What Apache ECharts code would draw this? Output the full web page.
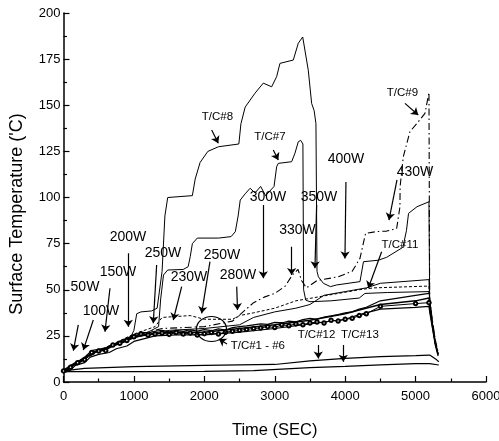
<!DOCTYPE html>
<html>
<head>
<meta charset="utf-8">
<script src="https://cdn.jsdelivr.net/npm/echarts@6/dist/echarts.min.js"></script>
<style>
  html, body { margin: 0; padding: 0; background: #fff; }
  #chart { width: 499px; height: 441px; }
</style>
</head>
<body>
<div id="chart"></div>
<script>
// Thermocouple traces: [time (s), surface temperature (°C)]
const tc8 = [[0,6],[100,8],[200,11],[300,13],[400,16],[600,18],[800,21],[950,24],[1000,28],[1040,37],[1100,38],[1250,38.5],[1330,40],[1400,60],[1440,90],[1480,100],[1830,101],[1870,110],[1940,119],[2050,125],[2200,127.5],[2490,129],[2520,140],[2580,149],[2719,156.5],[2837,162],[2956,160],[3027,165.5],[3074,172.7],[3263,174.5],[3334,183.6],[3397,187],[3476,169],[3524,151],[3560,147],[3585,140],[3600,60],[3620,57],[3690,53.5],[3790,51.7],[3880,52.6],[4210,54.4],[4260,65.2],[4470,66],[4590,67.6],[4820,73],[4870,82],[4900,91.4],[5020,95],[5190,97.7],[5200,45],[5240,32],[5280,22],[5320,15]];

const tc7 = [[0,6],[200,10.5],[400,15.5],[600,18],[800,21.5],[1000,25],[1200,27],[1350,30],[1380,45],[1420,58],[1480,60.7],[1700,61],[1770,62.5],[1800,68],[1830,75],[1900,78],[2200,78],[2380,78.8],[2440,81.5],[2480,90],[2510,98.6],[2580,102],[2650,105],[2720,102.5],[2800,106],[2870,101],[2930,103.5],[2990,106],[3027,116.7],[3050,118.5],[3240,119.4],[3287,124],[3334,130.2],[3368,131],[3400,129],[3410,50],[3440,44.4],[3500,43.5],[3800,44],[4200,45.5],[4280,48],[4600,48.5],[5190,49],[5200,45],[5240,31],[5280,21],[5320,15]];

const tc9 = [[0,6],[300,13],[600,18],[1000,25],[1400,29],[2000,30],[2400,33],[2550,38],[2700,43],[2850,46],[3000,48],[3150,52],[3250,58],[3330,61],[3380,55],[3450,51],[3600,55],[3900,57],[4100,60],[4210,67],[4290,80.6],[4447,81.5],[4589,81.8],[4731,83.2],[4778,95],[4780,105.8],[4825,122],[4920,135.7],[5038,141],[5133,145.6],[5190,157],[5200,45],[5240,33],[5280,23],[5320,16]];

const tc10 = [[0,6],[500,17],[1000,26],[1300,30],[1400,35],[1800,36],[2000,34],[2400,34],[2500,36],[2700,37.5],[3000,40],[3300,44],[3600,46],[4200,50],[4400,51],[5190,52],[5200,44],[5240,31],[5280,21],[5320,15]];

const tc11 = [[0,5.5],[500,17],[1000,24.5],[1500,28],[2000,29],[2500,31],[2700,35],[3000,38],[3300,40],[3500,42],[3700,47],[4000,49],[4300,51],[4500,53.5],[5190,55.5],[5200,44],[5240,31],[5280,21],[5320,15]];

// T/C#1 - #6 bundle
const tcA = [[0,5.5],[60,6.5],[150,10],[250,11],[350,14.5],[450,16.5],[600,17.5],[700,19.5],[850,21.5],[1000,24],[1100,25],[1300,26],[1500,27],[2000,27],[2500,29],[3000,31],[3500,33.5],[4000,37],[4200,39],[4500,42],[5000,44],[5190,45.5],[5200,40],[5240,30],[5280,21],[5320,15]];
const tcB = [[0,5],[80,6],[170,9],[300,10.5],[380,13.5],[500,15],[650,16],[750,18],[900,19.5],[1000,22],[1150,23.5],[1300,25],[1600,25.5],[2000,25.5],[2500,27],[3000,29],[3500,31.5],[4000,34],[4200,36.5],[4500,39.5],[5000,40.5],[5190,41],[5200,38],[5240,29],[5280,20],[5320,14]];
const tcC = [[0,6],[100,8],[200,10.5],[300,12],[400,16],[500,16.8],[600,17],[700,20],[800,21],[900,22.5],[1000,24.5],[1100,26],[1200,25.5],[1300,26],[1400,26.5],[1500,25.8],[1600,26.8],[1700,26],[1800,26.5],[1900,25.5],[2000,26.2],[2100,26.8],[2200,26],[2300,27],[2400,27.5],[2500,28],[2600,28.5],[2700,29],[2800,29.3],[2900,30],[3000,29.5],[3100,31],[3200,30.5],[3300,31.5],[3400,31],[3500,32],[3600,32.5],[3700,32],[3800,33.5],[3900,33],[4000,34],[4100,34.5],[4200,36],[4300,37],[4500,41],[5000,42.5],[5190,43]];
const tcD = [[0,6.5],[100,9],[200,11],[300,13.5],[400,17],[600,18.5],[800,22],[1000,25.5],[1100,27],[1200,26.5],[1300,27.5],[1400,28],[1500,27.2],[1600,28],[1700,27.4],[1800,28.3],[1900,27.6],[2000,28.4],[2100,27.8],[2200,28.8],[2300,28.2],[2400,29.5],[2500,30],[2600,30.4],[2700,31],[2800,31.5],[2900,31.2],[3000,32.3],[3100,32],[3200,33],[3300,32.6],[3400,33.8],[3500,34.5],[3600,34],[3700,35.2],[3800,35.8],[3900,36.5],[4000,37.5],[4100,38],[4200,39.5],[4300,40.5],[4500,44],[5000,47],[5190,48]];

const tc12 = [[0,6],[300,7.4],[1000,8.3],[2000,9],[3000,9.5],[3500,11.5],[4000,12.8],[4500,13.7],[5000,14.3],[5200,14.6],[5300,12],[5330,11]];
const tc13 = [[0,5.6],[1000,5.6],[2000,5.8],[2700,6.2],[3500,7.8],[4000,8.5],[4500,9.3],[5000,10],[5200,10],[5330,9.2]];

// Heater power steps and thermocouple annotations: [text, time, temperature]
const powerLabels = [["50W",305,51.5],["100W",533,38.5],["150W",774,59.6],["200W",916,78.6],["250W",1413,69.9],["230W",1782,56.9],["250W",2251,68.8],["280W",2478,58],["300W",2904,100.4],["330W",3323,82.4],["350W",3628,100.4],["400W",4011,120.7],["430W",4991,114]];
const tcLabels = [["T/C#8",2187,143.8],["T/C#7",2932,133],["T/C#9",4814,156.5],["T/C#11",4778,74.3],["T/C#12",3593,25.5],["T/C#13",4210,25.5],["T/C#1 - #6",2760,19.5]];

// Arrows: [from, to] in data space
const arrows = [
  [[210,31],[140,17]], [[423,33.6],[281,17.3]], [[660,50.8],[589,27.3]], [[920,69.8],[920,30]],
  [[1323,63.4],[1275,31.8]], [[1678,51.7],[1559,33.6]], [[2080,65.2],[1962,37.2]], [[2460,51.7],[2471,39]],
  [[2837,96],[2837,56.2]], [[3240,73.3],[3240,58]], [[3595,96],[3571,61.6]], [[4011,108.4],[3997,67]],
  [[4736,109.5],[4622,87.8]], [[2104,136.6],[2198,129.4]], [[2979,125.7],[3050,120.3]], [[4849,151],[5038,144.7]],
  [[4518,70.6],[4328,50.8]], [[3618,20],[3618,12.8]], [[3973,20],[3973,11]], [[2322,20.6],[2208,23.3]]
];

// Circled group of T/C#1 - #6 traces
const bundleRing = [[2101,28.7]];

const FONT = "'Liberation Sans', Arial, sans-serif";

function trace(data, extra) {
  return Object.assign({
    type: 'line', data: data, symbol: 'none', showSymbol: false, silent: true,
    lineStyle: { color: '#000', width: 1 }, z: 3
  }, extra || {});
}

function textSeries(rows, size) {
  return {
    type: 'scatter', silent: true, z: 6, symbolSize: 1,
    itemStyle: { color: 'rgba(0,0,0,0)', opacity: 1 },
    data: rows.map(d => [d[1], d[2], d[0]]),
    label: {
      show: true, position: 'inside', formatter: p => p.value[2],
      color: '#000', opacity: 1, fontSize: size, fontFamily: FONT,
      textBorderWidth: 0, textShadowBlur: 0
    }
  };
}

const chart = echarts.init(document.getElementById('chart'), null, { renderer: 'canvas' });

chart.setOption({
  animation: false,
  backgroundColor: '#fff',
  grid: { left: 63.5, right: 13, top: 13, bottom: 59, containLabel: false, outerBoundsMode: 'none' },
  xAxis: {
    type: 'value', min: 0, max: 6000, interval: 1000,
    name: 'Time (SEC)', nameLocation: 'middle', nameGap: 40,
    nameTextStyle: { color: '#000', fontSize: 16.5, fontFamily: FONT },
    axisLine: { show: true, lineStyle: { color: '#000', width: 1.5 } },
    axisTick: { show: true, inside: true, length: 6, lineStyle: { color: '#000', width: 1.2 } },
    minorTick: { show: true, splitNumber: 2, length: 3.5, lineStyle: { color: '#000', width: 1.2 } },
    splitLine: { show: false },
    axisLabel: { color: '#000', fontSize: 13, margin: 8, fontFamily: FONT, formatter: v => String(v) }
  },
  yAxis: {
    type: 'value', min: 0, max: 200, interval: 25,
    name: "Surface Temperature ('C)", nameLocation: 'middle', nameGap: 37,
    nameTextStyle: { color: '#000', fontSize: 18, fontFamily: FONT, padding: [0, 33, 0, 0] },
    axisLine: { show: true, lineStyle: { color: '#000', width: 1.5 } },
    axisTick: { show: true, inside: true, length: 6, lineStyle: { color: '#000', width: 1.2 } },
    minorTick: { show: true, splitNumber: 2, length: 3.5, lineStyle: { color: '#000', width: 1.2 } },
    splitLine: { show: false },
    axisLabel: { color: '#000', fontSize: 13, margin: 3, fontFamily: FONT, formatter: v => String(v) }
  },
  series: [
    trace(tc8),
    trace(tc7),
    trace(tc9, { lineStyle: { color: '#000', width: 1.1, type: [7, 3, 1.5, 3] } }),
    trace(tc10, { lineStyle: { color: '#000', width: 1, type: [3, 2] } }),
    trace(tc11),
    trace(tcA, { lineStyle: { color: '#000', width: 1.4 } }),
    trace(tcB, { lineStyle: { color: '#000', width: 1.2 } }),
    trace(tcC, { symbol: 'emptyCircle', showSymbol: true, showAllSymbol: true, symbolSize: 3.5,
                 itemStyle: { color: '#000', borderColor: '#000', borderWidth: 0.8 } }),
    trace(tcD, { lineStyle: { color: '#000', width: 1.2 } }),
    trace(tc12, { lineStyle: { color: '#000', width: 1.2 } }),
    trace(tc13, { lineStyle: { color: '#000', width: 1.2 } }),
    {
      type: 'scatter', data: bundleRing, symbol: 'circle', symbolSize: [30, 25], silent: true, z: 4,
      itemStyle: { color: 'rgba(0,0,0,0)', borderColor: '#000', borderWidth: 1.2, opacity: 1 }
    },
    {
      type: 'lines', coordinateSystem: 'cartesian2d', silent: true, z: 5,
      symbol: ['none', 'arrow'], symbolSize: 7,
      lineStyle: { color: '#000', width: 1.2, opacity: 1 },
      data: arrows.map(a => ({ coords: a }))
    },
    textSeries(powerLabels, 14),
    textSeries(tcLabels, 11.5)
  ]
});
</script>
</body>
</html>
